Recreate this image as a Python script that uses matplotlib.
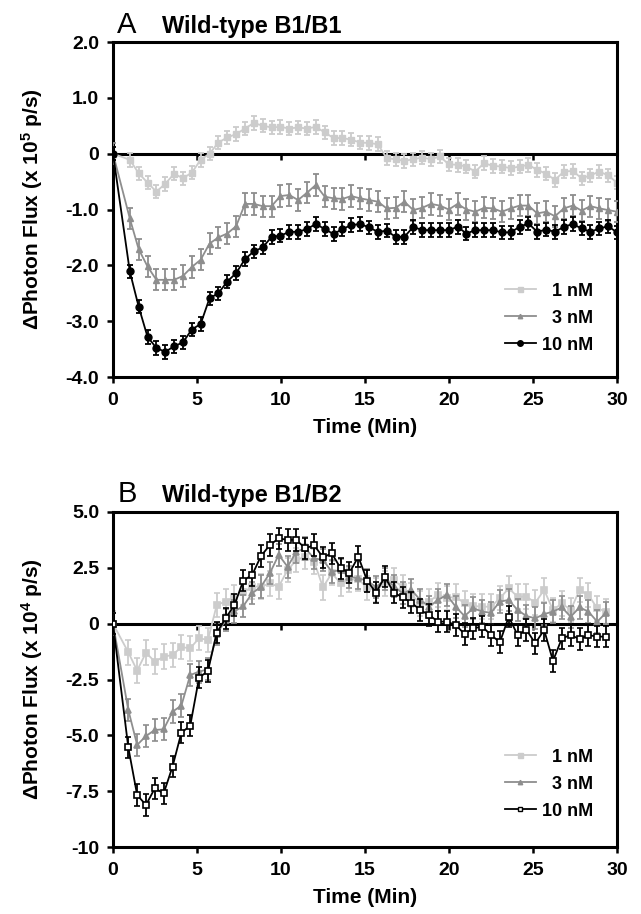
import numpy as np
import matplotlib
matplotlib.use("Agg")
import matplotlib.pyplot as plt
from matplotlib.lines import Line2D

plt.rcParams['font.family'] = ['Liberation Sans', 'DejaVu Sans']
plt.rcParams['font.weight'] = 'bold'
plt.rcParams['mathtext.fontset'] = 'custom'
plt.rcParams['mathtext.rm'] = 'Liberation Sans:bold'
plt.rcParams['mathtext.it'] = 'Liberation Sans:bold'
plt.rcParams['mathtext.bf'] = 'Liberation Sans:bold'

# ---------------- data ----------------
labels = ['1 nM', '3 nM', '10 nM']

# Panel A (x 10^5 p/s)
time_A = np.concatenate([[0.0], np.linspace(1.0, 30.0, 56)])
a_1nM = [0, -0.11, -0.35, -0.52, -0.68, -0.54, -0.36, -0.44, -0.34, -0.11,
         0.0, 0.20, 0.29, 0.35, 0.45, 0.55, 0.50, 0.47, 0.48, 0.45,
         0.47, 0.45, 0.48, 0.38, 0.28, 0.28, 0.25, 0.20, 0.19, 0.17,
         -0.08, -0.10, -0.13, -0.10, -0.07, -0.10, -0.05, -0.19, -0.20, -0.23,
         -0.32, -0.17, -0.22, -0.23, -0.26, -0.23, -0.20, -0.29, -0.36, -0.47,
         -0.32, -0.31, -0.44, -0.39, -0.32, -0.39, -0.52]
a_3nM = [0, -1.16, -1.71, -2.02, -2.26, -2.26, -2.26, -2.19, -2.03, -1.90,
         -1.61, -1.50, -1.43, -1.30, -0.90, -0.90, -0.94, -0.94, -0.76, -0.74,
         -0.83, -0.70, -0.56, -0.77, -0.80, -0.81, -0.76, -0.80, -0.83, -0.86,
         -0.98, -0.97, -0.86, -1.01, -0.97, -0.90, -0.93, -1.00, -0.90, -1.00,
         -1.04, -0.97, -0.98, -1.04, -0.98, -0.93, -0.93, -1.07, -1.04, -1.12,
         -0.98, -0.93, -1.02, -0.94, -0.98, -1.01, -1.04]
a_10nM = [0, -2.11, -2.74, -3.28, -3.48, -3.55, -3.45, -3.38, -3.15, -3.05,
          -2.59, -2.50, -2.29, -2.14, -1.89, -1.75, -1.68, -1.49, -1.47, -1.40,
          -1.40, -1.35, -1.26, -1.35, -1.44, -1.35, -1.28, -1.26, -1.32, -1.40,
          -1.38, -1.49, -1.49, -1.31, -1.37, -1.37, -1.37, -1.37, -1.31, -1.43,
          -1.37, -1.37, -1.37, -1.41, -1.41, -1.31, -1.25, -1.40, -1.36, -1.40,
          -1.31, -1.26, -1.34, -1.40, -1.34, -1.30, -1.41]
a_err = [0.12, 0.19, 0.12]

# Panel B (x 10^4 p/s)
time_B = np.concatenate([[0.0], np.linspace(0.91, 29.35, 55)])
b_1nM = [0, -1.28, -2.10, -1.30, -1.70, -1.48, -1.40, -1.05, -1.10, -0.65,
         -0.73, 0.84, 0.99, 1.20, 1.40, 1.66, 1.66, 1.80, 1.66, 2.40,
         2.85, 3.00, 2.78, 1.63, 2.26, 1.81, 1.96, 2.00, 1.60, 1.51,
         1.81, 1.96, 1.63, 1.29, 0.91, 0.99, 1.29, 1.14, 1.21, 0.91,
         0.79, 0.76, 0.76, 1.14, 1.58, 1.21, 1.21, 0.94, 1.51, 0.61,
         0.91, 0.61, 1.51, 1.29, 0.69, 0.54]
b_3nM = [0, -3.86, -5.43, -5.03, -4.76, -4.73, -3.94, -3.67, -2.30, -2.15,
         -2.04, -0.45, 0.15, 0.55, 0.79, 1.36, 1.66, 2.26, 3.08, 2.55,
         3.22, 3.37, 2.93, 2.85, 2.33, 2.40, 2.10, 2.03, 1.93, 1.63,
         1.99, 1.69, 1.36, 1.51, 1.06, 0.76, 1.06, 1.29, 0.76, 0.34,
         0.69, 0.54, 0.49, 0.99, 1.06, 0.61, 0.34, 0.24, 0.43, 0.54,
         0.73, 0.31, 0.73, 0.54, 0.09, 0.49]
b_10nM = [0, -5.54, -7.67, -8.12, -7.37, -7.60, -6.40, -4.88, -4.57, -2.42,
          -2.12, -0.40, 0.24, 0.84, 1.93, 2.18, 3.03, 3.52, 3.82, 3.75,
          3.75, 3.37, 3.52, 2.97, 3.15, 2.48, 2.28, 3.00, 1.92, 1.39,
          2.10, 1.39, 1.18, 0.94, 0.61, 0.39, 0.09, 0.09, -0.06, -0.46,
          -0.21, -0.13, -0.51, -0.83, 0.31, -0.51, -0.28, -0.88, -0.28, -1.67,
          -0.66, -0.51, -0.69, -0.51, -0.58, -0.58]
b_err = [0.55, 0.5, 0.48]

yticks_A = [-4, -3, -2, -1, 0, 1, 2]
yticklabels_A = ['-4.0', '-3.0', '-2.0', '-1.0', '0', '1.0', '2.0']
yticks_B = [-10, -7.5, -5, -2.5, 0, 2.5, 5]
yticklabels_B = ['-10', '-7.5', '-5.0', '-2.5', '0', '2.5', '5.0']
xticks = [0, 5, 10, 15, 20, 25, 30]

# ---------------- styles ----------------
colors = ['#cccccc', '#8e8e8e', '#000000']
W, H = 641, 914
fig = plt.figure(figsize=(W / 100, H / 100), dpi=100)

axA = fig.add_axes([113 / W, 1 - 377 / H, 504 / W, 335 / H])
axB = fig.add_axes([113 / W, 1 - 847 / H, 504 / W, 335 / H])

lw_sp = 2.2


def style_axis(ax, ylim, yticks, yticklabels, exp):
    ax.set_xlim(0, 30)
    ax.set_ylim(*ylim)
    ax.set_xticks(xticks)
    ax.set_xticklabels([str(v) for v in xticks])
    ax.set_yticks(yticks)
    ax.set_yticklabels(yticklabels)
    for s in ax.spines.values():
        s.set_linewidth(lw_sp)
    ax.tick_params(axis='both', which='major', direction='out', length=4,
                   width=1.8, labelsize=14)
    ax.tick_params(axis='x', pad=7)
    ax.tick_params(axis='y', pad=6)
    ax.set_xlabel('Time (Min)', fontsize=15, fontweight='bold', labelpad=6)
    ax.set_ylabel('\u0394Photon Flux (x 10$^{%d}$ p/s)' % exp, fontsize=15,
                  fontweight='bold')
    ax.yaxis.set_label_coords(-0.135, 0.5)
    # zero line with ticks
    frac = (0 - ylim[0]) / (ylim[1] - ylim[0])
    sec = ax.secondary_xaxis(frac)
    sec.set_alignment('bottom')
    sec.set_xticks([5, 10, 15, 20, 25])
    sec.tick_params(axis='x', direction='out', length=4, width=1.8,
                    labelbottom=False, labeltop=False)
    for s in sec.spines.values():
        s.set_linewidth(lw_sp)


# Panel A
markers_A = ['s', '^', 'o']
ms_A = [4.5, 4.0, 5.0]
for i, (y, e) in enumerate(zip([a_1nM, a_3nM, a_10nM], a_err)):
    axA.errorbar(time_A, y, yerr=e, color=colors[i], ecolor=colors[i],
                 marker=markers_A[i], ms=ms_A[i], mfc=colors[i], mec=colors[i],
                 lw=1.3, elinewidth=1.3, capsize=2.5, capthick=1.3,
                 zorder=2 + i)
style_axis(axA, (-4, 2), yticks_A, yticklabels_A, 5)

# Panel B
markers_B = ['s', '^', 's']
ms_B = [4.5, 4.0, 4.2]
mfc_B = [colors[0], colors[1], 'white']
for i, (y, e) in enumerate(zip([b_1nM, b_3nM, b_10nM], b_err)):
    axB.errorbar(time_B, y, yerr=e, color=colors[i], ecolor=colors[i],
                 marker=markers_B[i], ms=ms_B[i], mfc=mfc_B[i], mec=colors[i],
                 mew=1.2, lw=1.3, elinewidth=1.3, capsize=2.5, capthick=1.3,
                 zorder=2 + i)
style_axis(axB, (-10, 5), yticks_B, yticklabels_B, 4)

# Legends (labels right-aligned with figure spaces)
leg_labels = ['\u2007' + labels[0], '\u2007' + labels[1], labels[2]]
for ax, mk, ms, mfc, yanc in [(axA, markers_A, ms_A, colors, 0.07),
                              (axB, markers_B, ms_B, mfc_B, 0.082)]:
    handles = [Line2D([], [], color=colors[i], marker=mk[i], ms=ms[i] * 0.8,
                      mfc=mfc[i], mec=colors[i], lw=1.3)
               for i in range(3)]
    ax.legend(handles, leg_labels, loc='lower right',
              bbox_to_anchor=(0.952, yanc), frameon=False,
              handlelength=1.75, handletextpad=0.3, labelspacing=0.55,
              borderpad=0, borderaxespad=0, prop={'weight': 'bold', 'size': 13})

# Titles
axA.text(0.007, 1.028, 'A', transform=axA.transAxes, fontsize=21,
         fontweight='normal', ha='left', va='baseline')
axA.text(0.097, 1.028, 'Wild-type B1/B1', transform=axA.transAxes,
         fontsize=17, fontweight='bold', ha='left', va='baseline')
axB.text(0.009, 1.03, 'B', transform=axB.transAxes, fontsize=21,
         fontweight='normal', ha='left', va='baseline')
axB.text(0.097, 1.03, 'Wild-type B1/B2', transform=axB.transAxes,
         fontsize=17, fontweight='bold', ha='left', va='baseline')

fig.savefig('out.png', dpi=100)
